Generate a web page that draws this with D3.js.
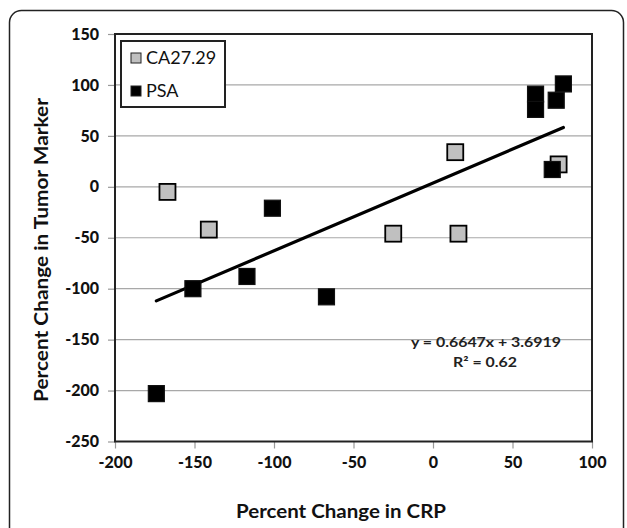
<!DOCTYPE html>
<html>
<head>
<meta charset="utf-8">
<script src="https://cdn.jsdelivr.net/npm/d3@7"></script>
<style>
  html, body { margin: 0; padding: 0; background: #fff; }
  svg { display: block; }
</style>
</head>
<body>
<svg id="chart" width="627" height="528"></svg>
<script>
// ---- Data ----
const xTicks = [-200, -150, -100, -50, 0, 50, 100];
const yTicks = [150, 100, 50, 0, -50, -100, -150, -200, -250];
const seriesNames = ["CA27.29", "PSA"];
const caX = [-167, -141, -25, 14, 16, 79];
const caY = [-5, -42, -46, 34, -46, 22];
const psaX = [-174, -151, -117, -101, -67, 64.5, 64.5, 82, 77.5, 75];
const psaY = [-203, -100, -88, -21, -108, 91, 76, 101, 85, 17];
const trendSlope = 0.6647;
const trendIntercept = 3.6919;
const trendLabel = "y = 0.6647x + 3.6919";
const r2Label = "R² = 0.62";
const xTitle = "Percent Change in CRP";
const yTitle = "Percent Change in Tumor Marker";

const svg = d3.select("#chart");
const font = "Lato, 'Open Sans', sans-serif";

// outer rounded frame
svg.append("rect")
  .attr("x", 9.5).attr("y", 10.5).attr("width", 614).attr("height", 560)
  .attr("rx", 12).attr("ry", 12)
  .attr("fill", "none").attr("stroke", "#222").attr("stroke-width", 1.5);

const pL = 115, pR = 592, pT = 34, pB = 441.5;
const x = d3.scaleLinear().domain([-200, 100]).range([pL, pR]);
const y = d3.scaleLinear().domain([-250, 150]).range([pB, pT]);
const fmt = d => String(d);

// gridlines
svg.append("g").selectAll("line").data(yTicks.filter(v => v !== -250 && v !== 150)).join("line")
  .attr("x1", pL).attr("x2", pR)
  .attr("y1", d => y(d)).attr("y2", d => y(d))
  .attr("stroke", "#a8a8a8").attr("stroke-width", 1.2);

// y axis
const yAxis = d3.axisLeft(y).tickValues(yTicks).tickSize(7).tickPadding(9).tickFormat(fmt);
const gy = svg.append("g").attr("transform", `translate(${pL},0)`).call(yAxis);
gy.select(".domain").remove();
gy.selectAll(".tick line").attr("stroke", "#999").attr("stroke-width", 1.2);
gy.selectAll(".tick text").attr("font-family", font).attr("font-weight", "900")
  .attr("font-size", 16).attr("fill", "#111");

// x axis
const xAxis = d3.axisBottom(x).tickValues(xTicks).tickSize(7).tickPadding(8).tickFormat(fmt);
const gx = svg.append("g").attr("transform", `translate(0,${pB})`).call(xAxis);
gx.select(".domain").remove();
gx.selectAll(".tick line").attr("stroke", "#999").attr("stroke-width", 1.2);
gx.selectAll(".tick text").attr("font-family", font).attr("font-weight", "900")
  .attr("font-size", 16).attr("fill", "#111");

// plot frame
svg.append("rect")
  .attr("x", pL).attr("y", pT).attr("width", pR - pL).attr("height", pB - pT)
  .attr("fill", "none").attr("stroke", "#222").attr("stroke-width", 2);

// trendline over data extent
const allX = caX.concat(psaX);
const xmin = d3.min(allX), xmax = d3.max(allX);
svg.append("line")
  .attr("x1", x(xmin)).attr("y1", y(trendSlope * xmin + trendIntercept))
  .attr("x2", x(xmax)).attr("y2", y(trendSlope * xmax + trendIntercept))
  .attr("stroke", "#000").attr("stroke-width", 3.2).attr("stroke-linecap", "round");

// points
const sq = 16;
const caData = caX.map((v, i) => ({x: v, y: caY[i]}));
const psaData = psaX.map((v, i) => ({x: v, y: psaY[i]}));
svg.append("g").selectAll("rect").data(caData).join("rect")
  .attr("x", d => x(d.x) - sq / 2).attr("y", d => y(d.y) - sq / 2)
  .attr("width", sq).attr("height", sq)
  .attr("fill", "#c0c0c0").attr("stroke", "#000").attr("stroke-width", 1.8);
svg.append("g").selectAll("rect").data(psaData).join("rect")
  .attr("x", d => x(d.x) - sq / 2).attr("y", d => y(d.y) - sq / 2)
  .attr("width", sq).attr("height", sq)
  .attr("fill", "#000").attr("stroke", "#111").attr("stroke-width", 1.2);

// equation labels
svg.append("text").attr("x", 486).attr("y", 347).attr("text-anchor", "middle")
  .attr("font-family", font).attr("font-weight", "bold").attr("font-size", 14)
  .attr("textLength", 150).attr("lengthAdjust", "spacingAndGlyphs")
  .attr("fill", "#222").text(trendLabel);
svg.append("text").attr("x", 485).attr("y", 367).attr("text-anchor", "middle")
  .attr("font-family", font).attr("font-weight", "bold").attr("font-size", 14)
  .attr("textLength", 64).attr("lengthAdjust", "spacingAndGlyphs")
  .attr("fill", "#222").text(r2Label);

// legend
const lg = svg.append("g");
lg.append("rect").attr("x", 121).attr("y", 41).attr("width", 104).attr("height", 66)
  .attr("fill", "#fff").attr("stroke", "#222").attr("stroke-width", 2);
const legColors = ["#c0c0c0", "#000"];
seriesNames.forEach((name, i) => {
  const cy = 58 + i * 33;
  lg.append("rect").attr("x", 131).attr("y", cy - 5).attr("width", 10).attr("height", 10)
    .attr("fill", legColors[i]).attr("stroke", "#222").attr("stroke-width", 1);
  lg.append("text").attr("x", 146).attr("y", cy + 6)
    .attr("font-family", font).attr("font-size", 18).attr("fill", "#111").text(name);
});

// axis titles
svg.append("text").attr("x", 341).attr("y", 518).attr("text-anchor", "middle")
  .attr("font-family", font).attr("font-weight", "bold").attr("font-size", 18)
  .attr("textLength", 210).attr("lengthAdjust", "spacingAndGlyphs")
  .attr("fill", "#111").text(xTitle);
svg.append("text").attr("transform", "translate(48,250) rotate(-90)").attr("text-anchor", "middle")
  .attr("font-family", font).attr("font-weight", "bold").attr("font-size", 18)
  .attr("textLength", 304).attr("lengthAdjust", "spacingAndGlyphs")
  .attr("fill", "#111").text(yTitle);
</script>
</body>
</html>
